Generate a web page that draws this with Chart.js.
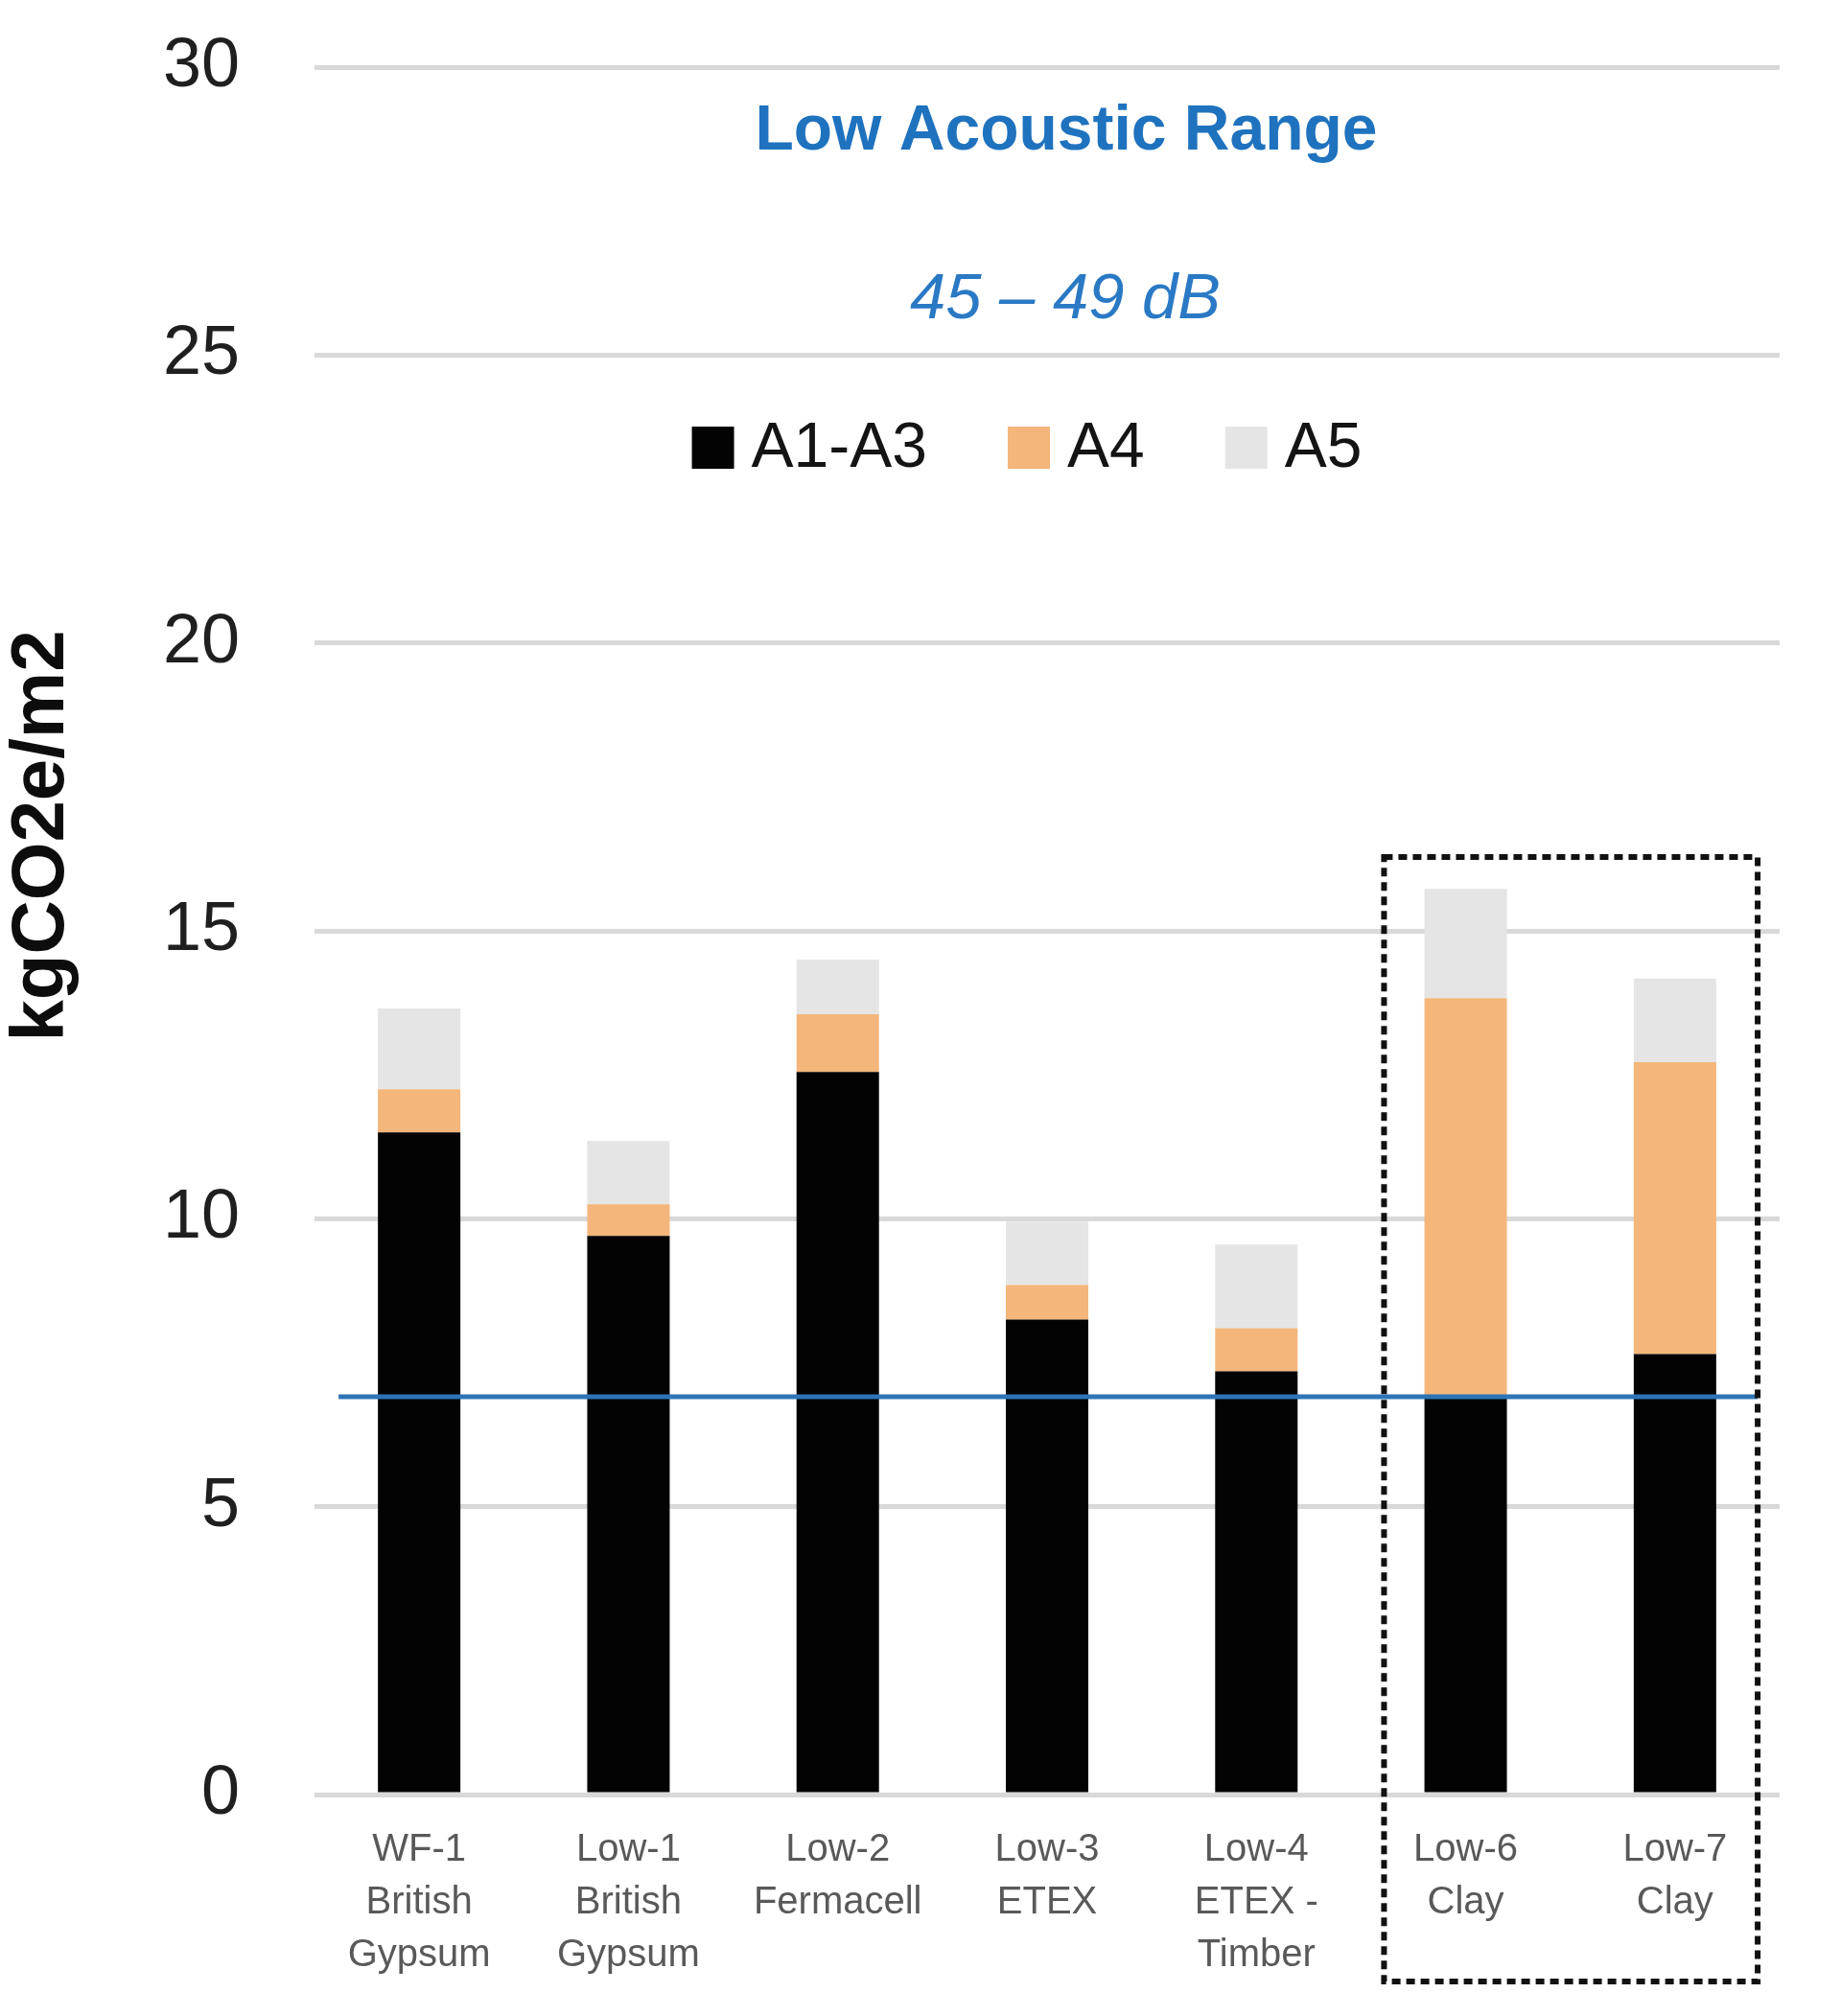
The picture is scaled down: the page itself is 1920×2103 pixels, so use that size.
<!DOCTYPE html>
<html>
<head>
<meta charset="utf-8">
<title>Low Acoustic Range</title>
<script src="https://cdn.jsdelivr.net/npm/chart.js@4.4.1/dist/chart.umd.min.js"></script>
<style>
  html, body { margin: 0; padding: 0; background: #fff; }
  #wrap { position: relative; width: 1920px; height: 2103px; }
</style>
</head>
<body>
<div id="wrap"><canvas id="lowAcousticChart"></canvas></div>
<script>
// data
const categories = [
  ['WF-1', 'British', 'Gypsum'],
  ['Low-1', 'British', 'Gypsum'],
  ['Low-2', 'Fermacell'],
  ['Low-3', 'ETEX'],
  ['Low-4', 'ETEX -', 'Timber'],
  ['Low-6', 'Clay'],
  ['Low-7', 'Clay']
];
const seriesNames = ['A1-A3', 'A4', 'A5'];
const a1a3Values = [11.5, 9.7, 12.55, 8.25, 7.35, 6.9, 7.65];
const a4Values = [0.75, 0.55, 1.0, 0.6, 0.75, 6.93, 5.07];
const a5Values = [1.4, 1.1, 0.95, 1.1, 1.45, 1.9, 1.45];
const yTicks = [0, 5, 10, 15, 20, 25, 30];
const benchmarkValue = 6.91;
const highlightedIndices = [5, 6];
const highlightTop = 16.28;
const chartTitle = 'Low Acoustic Range';
const chartSubtitle = '45 – 49 dB';
const yAxisTitle = 'kgCO2e/m2';

const FONT = '"Liberation Sans", Arial, sans-serif';
const seriesColors = ['#030303', '#f4b67a', '#e5e5e5'];

// title, subtitle, legend, axis title, benchmark line and the dotted box
const overlayPlugin = {
  id: 'overlay',
  afterDatasetsDraw(chart) {
    const { ctx, scales: { x, y } } = chart;
    const catW = x.width / categories.length;
    ctx.save();
    const by = y.getPixelForValue(benchmarkValue);
    ctx.strokeStyle = '#2e75b6';
    ctx.lineWidth = 5;
    ctx.beginPath();
    ctx.moveTo(x.getPixelForValue(0) - 0.385 * catW, by);
    ctx.lineTo(x.getPixelForValue(categories.length - 1) + 0.395 * catW, by);
    ctx.stroke();

    const bx0 = x.getPixelForValue(highlightedIndices[0]) - 0.39 * catW;
    const bx1 = x.getPixelForValue(highlightedIndices[highlightedIndices.length - 1]) + 0.395 * catW;
    const by0 = y.getPixelForValue(highlightTop);
    ctx.setLineDash([9, 6]);
    ctx.lineWidth = 6;
    ctx.strokeStyle = '#111';
    ctx.strokeRect(bx0, by0, bx1 - bx0, x.bottom - by0);
    ctx.restore();
  },
  afterDraw(chart) {
    const { ctx, chartArea } = chart;
    const cx = (chartArea.left + chartArea.right) / 2;
    ctx.save();
    ctx.textAlign = 'center';
    ctx.textBaseline = 'middle';
    ctx.fillStyle = '#1f72be';
    ctx.font = `bold 66px ${FONT}`;
    ctx.fillText(chartTitle, cx + 20, chartArea.top + 68);
    ctx.fillStyle = '#2a79c4';
    ctx.font = `italic 67px ${FONT}`;
    ctx.fillText(chartSubtitle, cx + 19, chartArea.top + 243);

    // legend
    ctx.font = `66px ${FONT}`;
    const box = 44, gapText = 18, gapItem = 84;
    const items = chart.data.datasets.map(ds => ({ label: ds.label, color: ds.backgroundColor }));
    const widths = items.map(it => ctx.measureText(it.label).width);
    let total = 0;
    widths.forEach((w, i) => { total += box + gapText + w + (i < items.length - 1 ? gapItem : 0); });
    let lx = cx - 21 - total / 2;
    const ly = chartArea.top + 397;
    ctx.textAlign = 'left';
    items.forEach((it, i) => {
      ctx.fillStyle = it.color;
      ctx.fillRect(lx, ly - box / 2, box, box);
      ctx.fillStyle = '#141414';
      ctx.fillText(it.label, lx + box + gapText, ly + 2);
      lx += box + gapText + widths[i] + gapItem;
    });

    // y axis title
    ctx.translate(44, chartArea.top + 802);
    ctx.rotate(-Math.PI / 2);
    ctx.textAlign = 'center';
    ctx.fillStyle = '#0d0d0d';
    ctx.font = `bold 78px ${FONT}`;
    ctx.fillText(yAxisTitle, 0, 0);
    ctx.restore();
  }
};

const datasets = [a1a3Values, a4Values, a5Values].map((values, i) => ({
  label: seriesNames[i],
  data: values,
  backgroundColor: seriesColors[i],
  borderWidth: 0,
  barPercentage: 0.394,
  categoryPercentage: 1
}));

new Chart(document.getElementById('lowAcousticChart'), {
  type: 'bar',
  data: { labels: categories, datasets },
  options: {
    responsive: true,
    maintainAspectRatio: false,
    animation: false,
    layout: { padding: { top: 70, right: 64, bottom: 36, left: 0 } },
    plugins: {
      legend: { display: false },
      tooltip: { enabled: false }
    },
    scales: {
      x: {
        stacked: true,
        afterFit(scale) { scale.height = 195; },
        grid: { display: false, drawTicks: false },
        border: { display: false },
        ticks: {
          color: '#595959',
          font: { family: FONT, size: 40, lineHeight: '55px' },
          padding: 30,
          maxRotation: 0,
          autoSkip: false
        }
      },
      y: {
        stacked: true,
        min: 0,
        max: 30,
        afterFit(scale) {
          scale.width = 328;
          scale.paddingTop = 0;
          scale.paddingBottom = 0;
        },
        afterBuildTicks(scale) { scale.ticks = yTicks.map(v => ({ value: v })); },
        grid: { color: '#d9d9d9', lineWidth: 5, drawTicks: false },
        border: { display: false },
        ticks: {
          color: '#1f1f1f',
          font: { family: FONT, size: 72 },
          padding: 78
        }
      }
    }
  },
  plugins: [overlayPlugin]
});
</script>
</body>
</html>
